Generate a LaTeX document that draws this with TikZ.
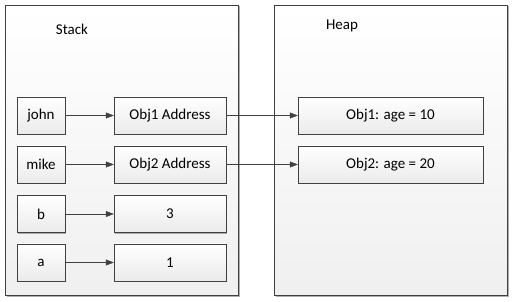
\documentclass[tikz,border=0pt]{standalone}
\usepackage{fontspec}
\setmainfont{Carlito}
\usepackage{tikz}
\usetikzlibrary{arrows.meta, shadows}

\tikzset{
  cell/.style={draw=black!75, top color=white, bottom color=black!8,
    minimum height=37pt, inner sep=0pt, font=\fontsize{15}{18}\selectfont,
    drop shadow={shadow xshift=1.2pt, shadow yshift=-1.2pt, fill=black!45, opacity=.7}},
  area/.style={draw=black!75, top color=white, bottom color=black!6,
    drop shadow={shadow xshift=1.5pt, shadow yshift=-1.5pt, fill=black!45, opacity=.7}},
  link/.style={draw=black!75, -{Triangle[length=8pt,width=6pt]}}
}

\begin{document}
\begin{tikzpicture}[x=1pt, y=-1pt]

\useasboundingbox (0,0) rectangle (512,302);

% the two memory areas
\path[area] (5,5) rectangle (238,295);
\path[area] (274,5) rectangle (507,295);

\node[font=\fontsize{15}{18}\selectfont] (stack) at (72,29) {Stack};
\node[font=\fontsize{15}{18}\selectfont] (heap) at (342,26) {Heap};

% stack: variables and values
\node[cell, minimum width=48pt] (john) at (41,115.5) {john};
\node[cell, minimum width=48pt] (mike) at (41,164.5) {mike};
\node[cell, minimum width=48pt] (b) at (41,214) {b};
\node[cell, minimum width=48pt] (a) at (41,262.5) {a};

\node[cell, minimum width=112pt] (addr1) at (170,115.5) {Obj1 Address};
\node[cell, minimum width=112pt] (addr2) at (170,164.5) {Obj2 Address};
\node[cell, minimum width=112pt] (val3) at (170,214) {3};
\node[cell, minimum width=112pt] (val1) at (170,262.5) {1};

% heap: objects
\node[cell, minimum width=185pt] (obj1) at (390.5,115.5) {Obj1: age = 10};
\node[cell, minimum width=185pt] (obj2) at (390.5,164.5) {Obj2: age = 20};

\draw[link] (john) -- (addr1);
\draw[link] (mike) -- (addr2);
\draw[link] (b) -- (val3);
\draw[link] (a) -- (val1);
\draw[link] (addr1) -- (obj1);
\draw[link] (addr2) -- (obj2);

\end{tikzpicture}
\end{document}
